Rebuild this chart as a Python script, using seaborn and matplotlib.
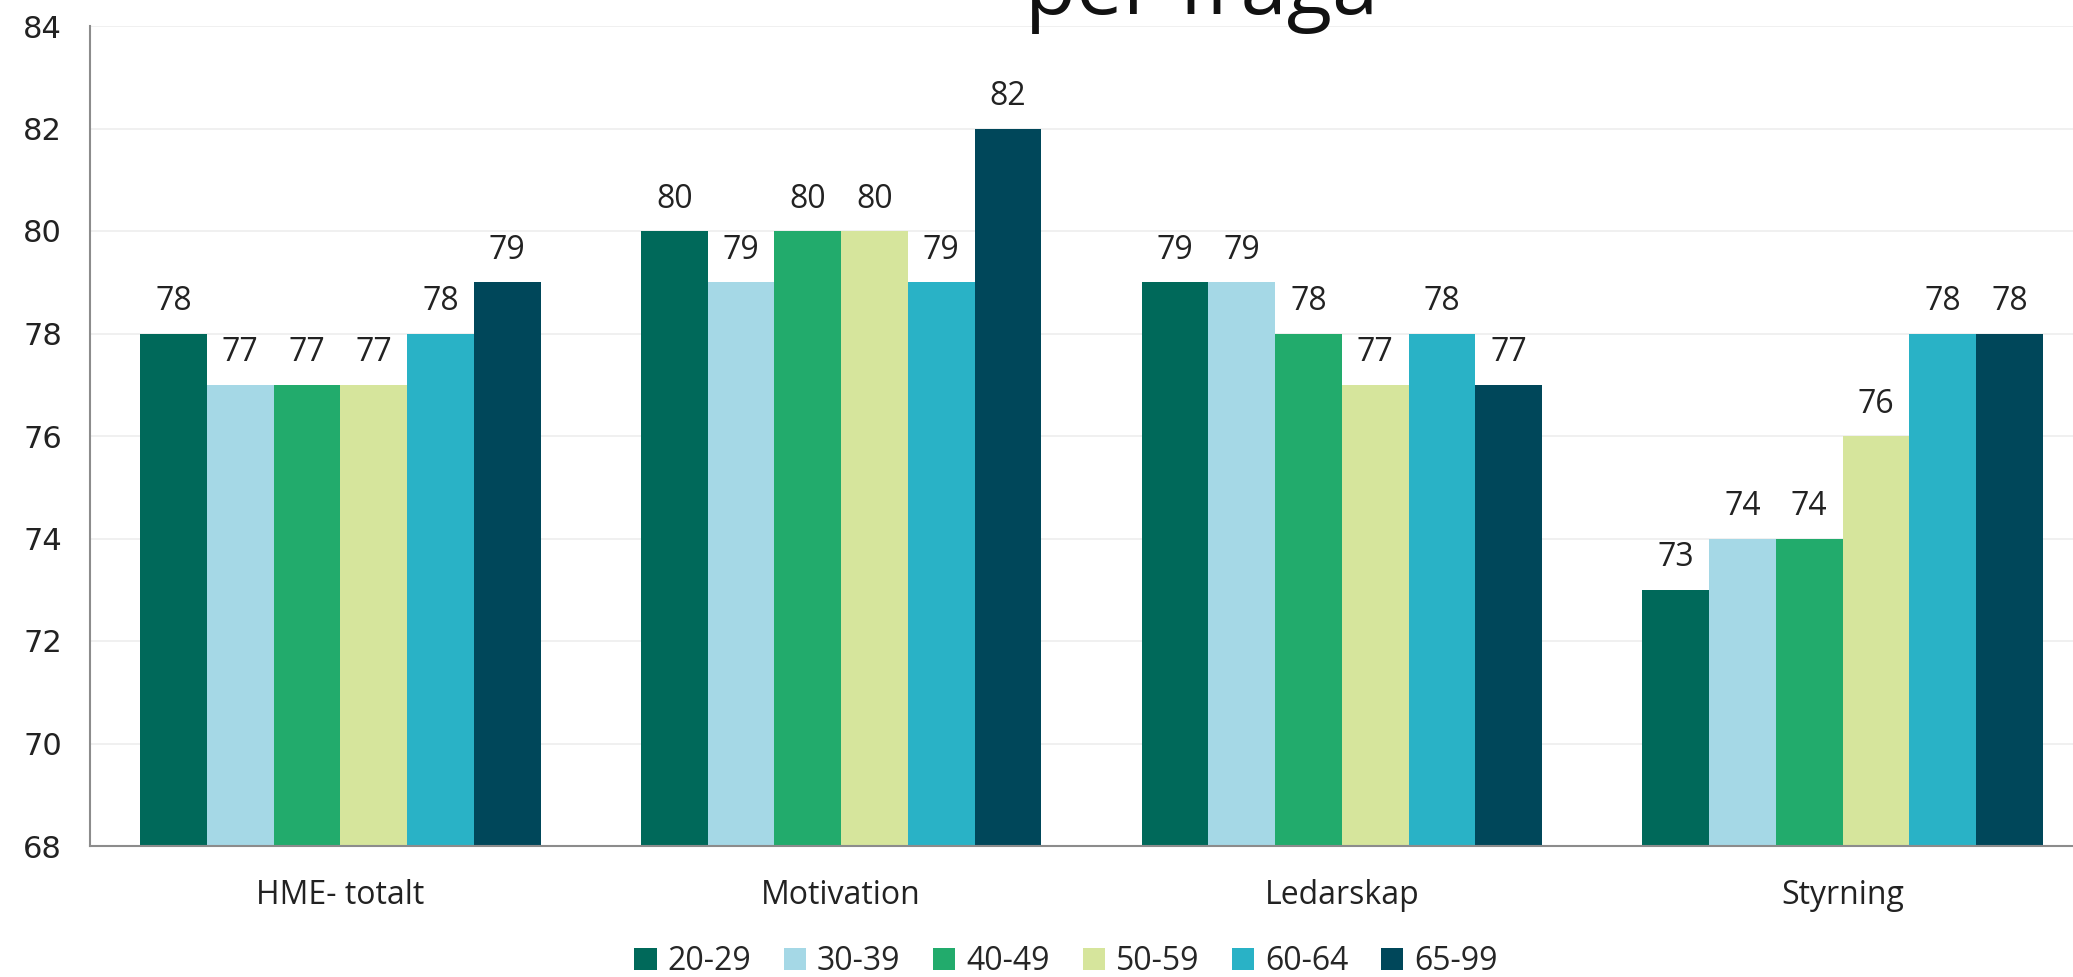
import pandas as pd
import numpy as np
import seaborn as sns
import matplotlib.pyplot as plt

# values
fragor = ['HME- totalt', 'Motivation', 'Ledarskap', 'Styrning']
grupper = ['20-29', '30-39', '40-49', '50-59', '60-64', '65-99']
v_20_29 = [78, 80, 79, 73]
v_30_39 = [77, 79, 79, 74]
v_40_49 = [77, 80, 78, 74]
v_50_59 = [77, 80, 77, 76]
v_60_64 = [78, 79, 78, 78]
v_65_99 = [79, 82, 77, 78]
y_ticks = [68, 70, 72, 74, 76, 78, 80, 82, 84]

farger = ['#00695A', '#A5D8E6', '#22AB6C', '#D6E59C', '#29B2C6', '#00475A']

serier = [v_20_29, v_30_39, v_40_49, v_50_59, v_60_64, v_65_99]
rows = []
for grupp, vals in zip(grupper, serier):
    for fraga, v in zip(fragor, vals):
        rows.append({'Fråga': fraga, 'Ålder': grupp, 'Värde': v})
df = pd.DataFrame(rows)

sns.set_style('white')
plt.rcParams['font.family'] = ['Open Sans', 'DejaVu Sans']

W, H = 2073, 977
fig = plt.figure(figsize=(W / 100, H / 100), dpi=100)
ax = fig.add_axes([90 / W, (H - 846) / H, (2093 - 90) / W, (846 - 26) / H])

sns.barplot(data=df, x='Fråga', y='Värde', hue='Ålder', palette=farger,
            saturation=1, width=0.8, linewidth=0, ax=ax, legend=True)

for cont in ax.containers:
    ax.bar_label(cont, fmt='%d', padding=11, fontsize=23, color='#222222')

ax.set_ylim(68, 84)
ax.set_xlim(-0.5, 3.5)
ax.set_yticks(y_ticks)
ax.set_yticklabels([str(t) for t in y_ticks], family='DejaVu Sans', fontsize=22, color='#222222')
ax.yaxis.grid(True, color='#EEEEEE', linewidth=1.2)
ax.set_axisbelow(True)

ax.set_xticks(range(len(fragor)))
ax.set_xticklabels(fragor, fontsize=23, color='#222222')
ax.set_xticks([-0.5, 0.5, 1.5, 2.5, 3.5], minor=True)
ax.tick_params(axis='x', which='major', length=0, pad=24)
ax.tick_params(axis='x', which='minor', length=8, width=1.2, color='#8C8C8C', direction='out')
ax.tick_params(axis='y', length=7, width=1.2, color='#8C8C8C', direction='out', pad=13)
ax.set_xlabel('')
ax.set_ylabel('')

sns.despine(ax=ax, top=True, right=True)
for side in ['left', 'bottom']:
    ax.spines[side].set_color('#8C8C8C')
    ax.spines[side].set_linewidth(1.5)

handles, labels = ax.get_legend_handles_labels()
ax.get_legend().remove()
fig.legend(handles, labels, loc='center', bbox_to_anchor=(1066 / W, 1 - 962 / H),
           ncol=6, frameon=False, fontsize=23, handlelength=0.69, handleheight=0.69,
           handletextpad=0.34, columnspacing=1.03, borderpad=0, borderaxespad=0)

fig.text(1025 / W, 1 - 14 / H, 'per fråga', fontsize=60, ha='left', va='baseline', color='#111111')

fig.savefig('out.png', dpi=100)
